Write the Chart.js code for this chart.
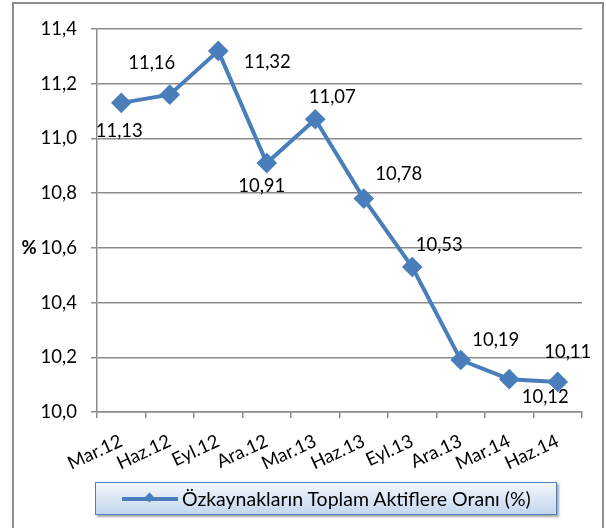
<!DOCTYPE html>
<html>
<head>
<meta charset="utf-8">
<script src="https://cdn.jsdelivr.net/npm/chart.js@4"></script>
<style>
  html, body { margin: 0; padding: 0; background: #fff; }
  #wrap { position: relative; width: 606px; height: 528px; overflow: hidden; font-family: Lato, sans-serif; }
  #frame { position: absolute; left: 12px; top: 2px; width: 588px; height: 540px; border: 2px solid #8c8c8c; }
  #chart { position: absolute; left: 0; top: 0; }
  #legend {
    position: absolute; left: 95px; top: 482px; width: 462px; height: 33px;
    border: 1px solid #4f81bd; box-sizing: border-box;
    background: linear-gradient(#f2f6fc, #c4d7ee);
    box-shadow: 2px 2px 2px rgba(0,0,0,0.35);
    display: flex; align-items: center; font-size: 19.5px; color: #000; white-space: nowrap;
  }
  #legend .sample { position: relative; width: 56px; height: 4px; background: #4a7ebb; margin-left: 26px; margin-right: 4px; }
  #legend .sample i { position: absolute; left: 24px; top: -3px; width: 7px; height: 7px; background: #4a7ebb; transform: rotate(45deg); }
</style>
</head>
<body>
<div id="wrap">
  <div id="frame"></div>
  <canvas id="chart" width="606" height="528"></canvas>
  <div id="legend"><span class="sample"><i></i></span><span id="legend-text"></span></div>
</div>
<script>
const periods = ['Mar.12', 'Haz.12', 'Eyl.12', 'Ara.12', 'Mar.13', 'Haz.13', 'Eyl.13', 'Ara.13', 'Mar.14', 'Haz.14'];
const ratio = [11.13, 11.16, 11.32, 10.91, 11.07, 10.78, 10.53, 10.19, 10.12, 10.11];
const seriesName = 'Özkaynakların Toplam Aktiflere Oranı (%)';

// where each value label sits relative to its point
const labelOffsets = [[-2, 28], [-18, -32], [49, 11], [-5, 23], [17, -22], [35, -25], [27, -22], [35, -20], [36, 18], [10, -30]];

const fmt = v => v.toFixed(2).replace('.', ',');
const lineColor = '#4a7ebb';
const gridColor = '#8c8c8c';
const font = { family: 'Lato, sans-serif', size: 18.5 };

document.getElementById('legend-text').textContent = seriesName;

const valueLabels = {
  id: 'valueLabels',
  afterDatasetsDraw(chart) {
    const ctx = chart.ctx;
    const meta = chart.getDatasetMeta(0);
    ctx.save();
    ctx.font = font.size + 'px ' + font.family;
    ctx.fillStyle = '#000';
    ctx.textAlign = 'center';
    ctx.textBaseline = 'middle';
    meta.data.forEach((pt, i) => {
      const off = labelOffsets[i];
      ctx.fillText(fmt(ratio[i]), pt.x + off[0], pt.y + off[1]);
    });
    // unit next to the value axis
    ctx.font = 'bold ' + font.size + 'px ' + font.family;
    ctx.fillText('%', 29, chart.scales.y.getPixelForValue(10.6));
    ctx.restore();
  }
};

new Chart(document.getElementById('chart'), {
  type: 'line',
  data: {
    labels: periods,
    datasets: [{
      label: seriesName,
      data: ratio,
      borderColor: lineColor,
      backgroundColor: lineColor,
      borderWidth: 4,
      pointStyle: 'rectRot',
      pointRadius: 7.5,
      pointHoverRadius: 7.5,
      tension: 0
    }]
  },
  options: {
    responsive: false,
    animation: false,
    layout: { padding: { top: 29, right: 24, left: 0, bottom: 0 } },
    plugins: { legend: { display: false }, tooltip: { enabled: false } },
    scales: {
      x: {
        offset: true,
        afterFit: s => { s.height = 116; },
        grid: { display: true, drawOnChartArea: false, color: gridColor, lineWidth: 1.5, tickLength: 6, offset: true },
        border: { color: gridColor, width: 1.5 },
        ticks: { color: '#000', font: font, autoSkip: false, minRotation: 25, maxRotation: 25, padding: 12 }
      },
      y: {
        min: 10.0,
        max: 11.4,
        afterFit: s => { s.width = 97; },
        grid: { color: gridColor, lineWidth: 1.5, tickLength: 6 },
        border: { color: gridColor, width: 1.5 },
        ticks: { stepSize: 0.2, color: '#000', font: font, padding: 14, callback: v => v.toFixed(1).replace('.', ',') }
      }
    }
  },
  plugins: [valueLabels]
});
</script>
</body>
</html>
